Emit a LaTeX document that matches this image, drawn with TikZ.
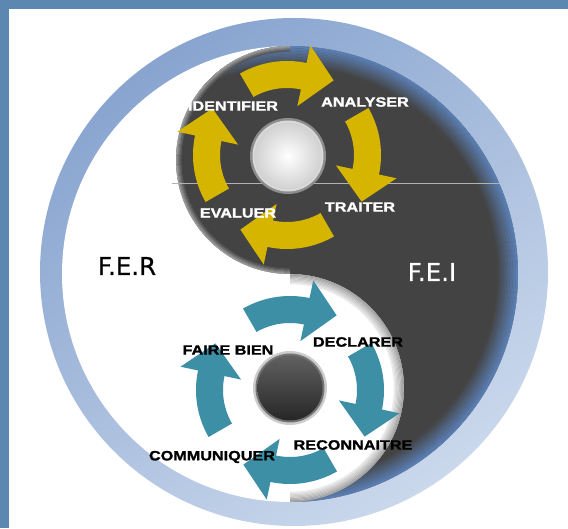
\documentclass[tikz,border=0pt]{standalone}
\usepackage{fontspec}
\newfontfamily\lblfont[FakeStretch=1.2,FakeBold=1.5]{Liberation Sans Bold}
\newfontfamily\ferfont[FakeBold=0.6]{DejaVu Sans}
\definecolor{framecol}{HTML}{5B87B0}
\definecolor{ringA}{HTML}{88A4CF}
\definecolor{ringB}{HTML}{CAD8EC}
\definecolor{dk}{HTML}{434343}
\definecolor{glow}{HTML}{5C82BA}
\definecolor{yel}{HTML}{D5B500}
\definecolor{tealarr}{HTML}{3D8FA6}
\tikzset{
  lblA/.style={inner sep=0pt, text=white, font=\lblfont\fontsize{13.5}{14}\selectfont},
  lblB/.style={inner sep=0pt, text=black, font=\lblfont\fontsize{13.5}{14}\selectfont},
  bigl/.style={inner sep=0pt, font=\ferfont\fontsize{24.5}{26}\selectfont},
}
\newcommand\cycarrow[3]{%
  \begin{scope}[shift={(#1)}]
    \pgfmathsetmacro\cyA{#2}\pgfmathsetmacro\cyB{#2-42}\pgfmathsetmacro\cyC{#2-62}
    \fill[#3] (\cyA:94) arc[start angle=\cyA, end angle=\cyB, radius=94]
      -- (\cyB:112) -- (\cyC:88) -- (\cyB:50) -- (\cyB:67)
      arc[start angle=\cyB, end angle=\cyA, radius=67] -- cycle;
  \end{scope}}
\begin{document}
\begin{tikzpicture}[x=1pt,y=1pt]
\useasboundingbox (0,0) rectangle (568,528);
\fill[white] (0,0) rectangle (568,528);
% frame
\fill[framecol] (0,0) rectangle (9,528);
\fill[framecol] (0,519) rectangle (568,528);
% ring
\shade[top color=ringA, bottom color=ringB, shading angle=35] (294,256) circle (254);
\fill[white] (290,254) circle (228);
% dark half
\begin{scope}
  \clip (290,482) arc[start angle=90,end angle=-90,radius=228]
        arc[start angle=-90,end angle=90,radius=114]
        arc[start angle=-90,end angle=-270,radius=114] -- cycle;
  \fill[dk] (50,20) rectangle (530,490);
  \foreach \i in {0,...,14}{
    \pgfmathtruncatemacro\pc{100-\i*7}
    \draw[line width=1.7pt, glow!\pc!dk] (290,254) circle ({228-\i*1.5});
  }
  % silver rim on the left edge of the upper lobe
  \foreach \i in {0,...,5}{
    \pgfmathtruncatemacro\pc{55-\i*9}
    \draw[line width=1.2pt, white!\pc!dk] (290,{482-\i}) arc[start angle=90, end angle=270, radius={114-\i}];
  }
\end{scope}
% gray rim inside lower white lobe
\begin{scope}
  \clip (290,26) arc[start angle=-90,end angle=90,radius=114] -- cycle;
  \foreach \i in {0,...,8}{
    \pgfmathtruncatemacro\pc{40-\i*4}
    \draw[line width=1.3pt, black!\pc] (290,140) circle ({114-\i*1.2});
  }
\end{scope}
% thin line
\draw[line width=0.8pt, black!30] (172,345) -- (500,345);
% dots
\fill[black!45] (288,372) circle (38);
\fill[black!15] (288,372) circle (35.5);
\shade[inner color=white, outer color=black!18] (288,372) circle (33.5);
\fill[black!20] (290,140) circle (37);
\fill[black!55] (290,140) circle (34.5);
\shade[top color=black!62, bottom color=black!85] (290,140) circle (32.5);
% yellow cycle
\cycarrow{287,373}{120}{yel}
\cycarrow{287,373}{30}{yel}
\cycarrow{287,373}{-60}{yel}
\cycarrow{287,373}{-150}{yel}
% teal cycle
\cycarrow{290,138}{120}{tealarr}
\cycarrow{290,138}{30}{tealarr}
\cycarrow{290,138}{-60}{tealarr}
\cycarrow{290,138}{-150}{tealarr}
% labels top
\node[lblA] (identifier) at (233,422) {IDENTIFIER};
\node[lblA] (analyser) at (365,426) {ANALYSER};
\node[lblA] (traiter) at (360,321) {TRAITER};
\node[lblA] (evaluer) at (238,315) {EVALUER};
% labels bottom
\node[lblB] (fairebien) at (228,178) {FAIRE BIEN};
\node[lblB] (declarer) at (358,186) {DECLARER};
\node[lblB] (reconnaitre) at (353,83) {RECONNAITRE};
\node[lblB] (communiquer) at (212,71) {COMMUNIQUER};
% side labels
\node[bigl, text=black] (fer) at (127,262) {F.E.R};
\node[bigl, text=white] (fei) at (432,256) {F.E.I};
\end{tikzpicture}
\end{document}
